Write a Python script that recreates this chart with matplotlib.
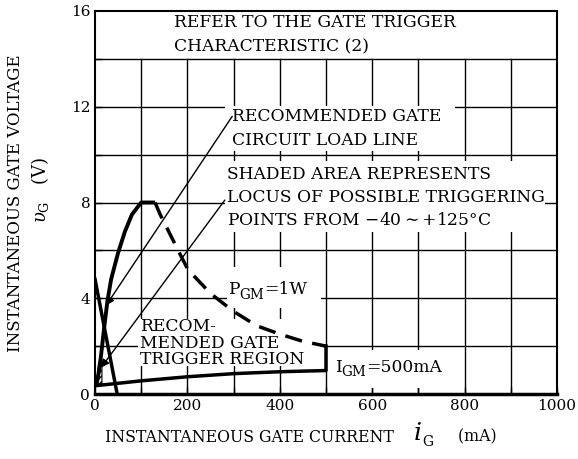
import numpy as np
import matplotlib
matplotlib.use("Agg")
import matplotlib.pyplot as plt
from matplotlib.patches import Rectangle, Polygon
from matplotlib.transforms import IdentityTransform

plt.rcParams['font.family'] = ['DejaVu Serif']
plt.rcParams['mathtext.fontset'] = 'dejavuserif'

# curves (i in mA, v in V)
left_i = [3, 8, 13, 20, 27, 35, 50, 65, 80, 100, 130]
left_v = [0.35, 0.9, 1.6, 2.8, 3.9, 4.8, 5.9, 6.8, 7.5, 8.0, 8.0]
pgm_i = [130, 141, 180, 201, 250, 300, 350, 400, 450, 500]
pgm_v = [8.0, 7.5, 6.0, 5.2, 4.2, 3.45, 2.85, 2.5, 2.2, 2.0]
bot_i = [3, 100, 200, 300, 400, 500, 500]
bot_v = [0.35, 0.55, 0.72, 0.85, 0.93, 0.98, 2.0]
load_i = [0, 48]
load_v = [4.8, 0]
shade_i = [3, 15, 15, 8]
shade_v = [0.38, 0.42, 1.3, 1.3]

xticks = [0, 200, 400, 600, 800, 1000]
yticks = [0, 4, 8, 12, 16]

fig = plt.figure(figsize=(5.78, 4.59), dpi=100)
ax = fig.add_axes([95 / 578, 1 - 394 / 459, 462 / 578, 383 / 459])
ax.set_xlim(0, 1000)
ax.set_ylim(0, 16)
rend = fig.canvas.get_renderer()

# grid (drawn by hand, text boxes blank parts of it)
for x in range(100, 1000, 100):
    ax.plot([x, x], [0, 14], color='black', lw=1, zorder=1)
for y in range(2, 16, 2):
    ax.plot([0, 1000], [y, y], color='black', lw=1, zorder=1)

# white boxes behind the texts
boxes = [(0, 14.04, 1000, 1.96), (281, 10.15, 498, 1.9), (281, 6.75, 693, 3.0),
         (285, 3.6, 205, 1.7), (93, 1.15, 401, 2.0), (515, 0.25, 253, 1.6)]
for bx, by, bw, bh in boxes:
    ax.add_patch(Rectangle((bx, by), bw, bh, facecolor='white', edgecolor='none', zorder=2))

ax.plot(left_i, left_v, color='black', lw=2.8, zorder=4, solid_capstyle='butt')
ax.plot(pgm_i, pgm_v, color='black', lw=2.5, ls=(0, (5, 3)), zorder=4)
ax.plot(bot_i, bot_v, color='black', lw=2.5, zorder=4)
ax.plot(load_i, load_v, color='black', lw=2.5, zorder=4)
ax.add_patch(Polygon(list(zip(shade_i, shade_v)), closed=True, facecolor='white',
                     edgecolor='black', lw=0.8, hatch='//////', zorder=3))

# leader lines
ax.annotate('', xy=(24, 3.7), xytext=(297, 11.6), zorder=5,
            arrowprops=dict(arrowstyle='-|>', color='black', lw=1, mutation_scale=12, shrinkA=0, shrinkB=0))
ax.annotate('', xy=(13, 1.1), xytext=(281, 8.1), zorder=5,
            arrowprops=dict(arrowstyle='-|>', color='black', lw=1, mutation_scale=12, shrinkA=0, shrinkB=0))

fs = 12.3
tk = dict(fontsize=fs, zorder=5, va='center', ha='left')
ax.text(170, 15.5, 'REFER TO THE GATE TRIGGER', **tk)
ax.text(170, 14.5, 'CHARACTERISTIC (2)', **tk)
ax.text(297, 11.6, 'RECOMMENDED GATE', **tk)
ax.text(297, 10.6, 'CIRCUIT LOAD LINE', **tk)
ax.text(285, 9.15, 'SHADED AREA REPRESENTS', **tk)
ax.text(285, 8.2, 'LOCUS OF POSSIBLE TRIGGERING', **tk)
ax.text(285, 7.25, 'POINTS FROM $-$40$\\sim$+125°C', **tk)
ax.text(97, 2.8, 'RECOM-', **tk)
ax.text(97, 2.12, 'MENDED GATE', **tk)
ax.text(97, 1.45, 'TRIGGER REGION', **tk)


def chain(px, py, parts):
    # place text pieces one after another, in pixels (y from top)
    x = px
    for s, size, dy, style in parts:
        t = fig.text(x, 459 - py - dy, s, fontsize=size, style=style, transform=IdentityTransform(),
                     ha='left', va='center', zorder=5)
        x = t.get_window_extent(rend).x1


chain(228, 290, [('P', fs, 0, 'normal'), ('GM', fs * 0.8, 5, 'normal'), ('=1W', fs, 0, 'normal')])
chain(335, 367, [('I', fs, 0, 'normal'), ('GM', fs * 0.8, 5, 'normal'), ('=500mA', fs, 0, 'normal')])
chain(105, 437, [('INSTANTANEOUS GATE CURRENT    ', 11.3, 0, 'normal'), ('i', 18, -3, 'italic'),
                 ('G', 10, 5, 'normal'), ('     (mA)', 11.3, 0, 'normal')])

ax.set_xticks(xticks)
ax.set_yticks(yticks)
ax.set_xticks(range(0, 1001, 100), minor=True)
ax.set_yticks(range(0, 17, 2), minor=True)
ax.tick_params(which='both', direction='in', length=5, width=1, labelsize=11)
ax.tick_params(which='minor', labelleft=False, labelbottom=False)
for s in ax.spines.values():
    s.set_linewidth(1.5)
    s.set_zorder(6)
ax.spines['bottom'].set_linewidth(2.5)

fig.text(16 / 578, 1 - 203 / 459, 'INSTANTANEOUS GATE VOLTAGE', fontsize=12, rotation=90,
         ha='center', va='center')
fig.text(40 / 578, 1 - 190 / 459, '$\\upsilon_{\\rm G}$   (V)', fontsize=13, rotation=90,
         ha='center', va='center')

fig.savefig('out.png', dpi=100)
